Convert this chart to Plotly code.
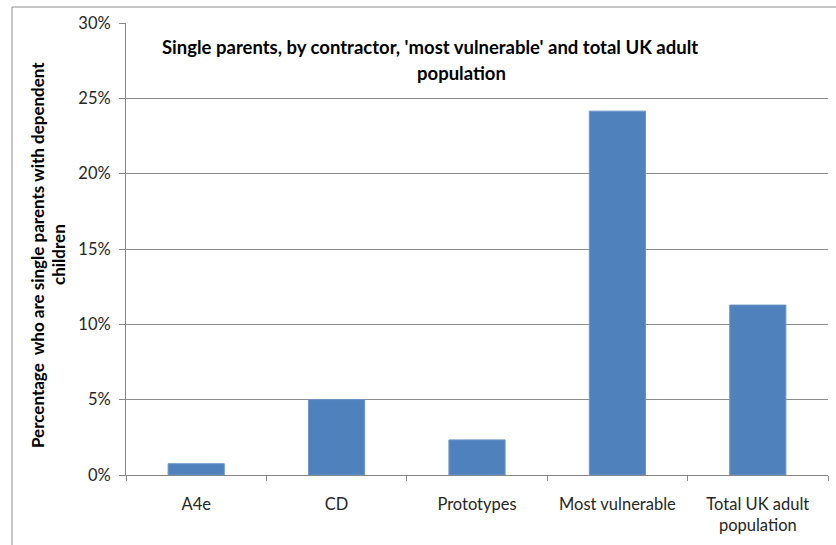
import plotly.graph_objects as go

categories = ["A4e", "CD", "Prototypes", "Most vulnerable", "Total UK adult<br>population"]
values = [0.0075, 0.050, 0.0233, 0.2415, 0.1128]
y_ticks = [0, 0.05, 0.10, 0.15, 0.20, 0.25, 0.30]
y_tick_labels = ["0%", "5%", "10%", "15%", "20%", "25%", "30%"]

title_line1 = "Single parents, by contractor, 'most vulnerable' and total UK adult"
title_line2 = "population"
y_title_line1 = "Percentage&nbsp; who are single parents with dependent"
y_title_line2 = "children"

W, H = 836, 545
L, R, T, B = 126, 8, 23, 70
pw, ph = W - L - R, H - T - B

def px(x):
    return (x - L) / pw

def py(y):
    return (H - B - y) / ph

FONT = "Lato, Carlito, Calibri, sans-serif"

fig = go.Figure(go.Bar(
    x=categories, y=values,
    marker=dict(color="#4F81BD", line=dict(color="#6E95C9", width=1)),
    width=0.4,
))

fig.update_layout(
    width=W, height=H,
    margin=dict(l=L, r=R, t=T, b=B),
    paper_bgcolor="white", plot_bgcolor="white",
    showlegend=False,
    font=dict(family=FONT, size=16.5, color="#262626"),
    xaxis=dict(
        showline=True, linecolor="#868686", linewidth=1,
        ticks="outside", tickson="boundaries", ticklen=5, tickcolor="#868686",
        ticklabelstandoff=14,
        tickfont=dict(size=16.5, color="#262626"),
        showgrid=False,
    ),
    yaxis=dict(
        range=[0, 0.30], tickvals=y_ticks, ticktext=y_tick_labels,
        showline=True, linecolor="#868686", linewidth=1,
        ticks="outside", ticklen=6, tickcolor="#868686",
        ticklabelstandoff=5,
        showgrid=True, gridcolor="#8C8C8C", gridwidth=1,
        zeroline=False,
        tickfont=dict(size=16.5, color="#262626"),
    ),
    shapes=[
        dict(type="line", xref="paper", yref="paper",
             x0=px(12), x1=px(12), y0=py(7), y1=py(560),
             line=dict(color="#8C8C8C", width=1)),
        dict(type="line", xref="paper", yref="paper",
             x0=px(12), x1=px(850), y0=py(7), y1=py(7),
             line=dict(color="#8C8C8C", width=1)),
    ],
    annotations=[
        dict(text="<b>" + title_line1 + "</b>", xref="paper", yref="paper",
             x=px(430), y=py(47), showarrow=False,
             xanchor="center", yanchor="middle",
             font=dict(size=18.5, color="black")),
        dict(text="<b>" + title_line2 + "</b>", xref="paper", yref="paper",
             x=px(461), y=py(73), showarrow=False,
             xanchor="center", yanchor="middle",
             font=dict(size=18.5, color="black")),
        dict(text="<b>" + y_title_line1 + "</b>", xref="paper", yref="paper",
             x=px(37), y=py(255), showarrow=False, textangle=-90,
             xanchor="center", yanchor="middle",
             font=dict(size=17, color="black")),
        dict(text="<b>" + y_title_line2 + "</b>", xref="paper", yref="paper",
             x=px(58), y=py(255), showarrow=False, textangle=-90,
             xanchor="center", yanchor="middle",
             font=dict(size=17, color="black")),
    ],
)

fig.write_html("out.html")
